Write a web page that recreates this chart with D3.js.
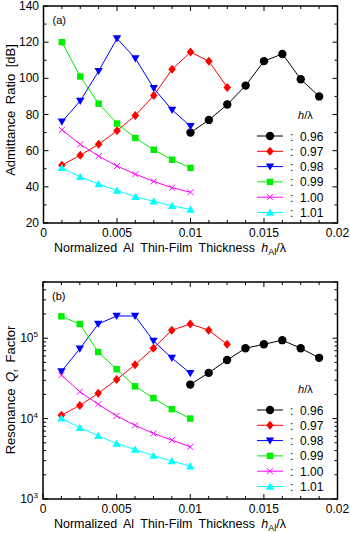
<!DOCTYPE html>
<html>
<head>
<meta charset="utf-8">
<script src="https://cdn.jsdelivr.net/npm/d3@7"></script>
<style>
  body { margin: 0; background: #fff; }
  svg { display: block; font-family: "Liberation Sans", Arial, sans-serif; }
</style>
</head>
<body>
<div id="chart"></div>
<script>
// film thickness values (h_Al / lambda)
var xFull = [0.00125, 0.0025, 0.00375, 0.005, 0.00625, 0.0075, 0.00875, 0.01];
var xBlack = [0.01, 0.01125, 0.0125, 0.01375, 0.015, 0.01625, 0.0175, 0.01875];
var xRed = [0.00125, 0.0025, 0.00375, 0.005, 0.00625, 0.0075, 0.00875, 0.01, 0.01125, 0.0125];

var seriesNames = ['0.96', '0.97', '0.98', '0.99', '1.00', '1.01'];
var seriesColors = ['#000000', '#ff0000', '#0000ff', '#00ee00', '#ff00ff', '#00ffff'];
var seriesMarkers = ['circle', 'diamond', 'triDown', 'square', 'cross', 'triUp'];

// (a) admittance ratio [dB]
var ratio096 = [70, 77, 85.5, 96, 109.5, 113.5, 99.5, 90];
var ratio097 = [52, 57.5, 63.5, 71, 79.5, 90.5, 105, 114.5, 109.5, 95];
var ratio098 = [76, 87.5, 104, 122, 111, 94.5, 82.5, 73.5];
var ratio099 = [120, 101, 86, 75, 67, 60.5, 55, 50.5];
var ratio100 = [71.5, 63.5, 57, 51.5, 47, 43, 39.5, 37];
var ratio101 = [50.5, 45.5, 41.5, 38, 34.5, 32, 29.5, 27.5];

// (b) resonance Q factor
var q096 = [26500, 37000, 53500, 75000, 84000, 94500, 75000, 57000];
var q097 = [11000, 14600, 20600, 30600, 46700, 75000, 126000, 150000, 126000, 84000];
var q098 = [38500, 74000, 150000, 189000, 189000, 92700, 56600, 36700];
var q099 = [187000, 150000, 67300, 41200, 25200, 18000, 13100, 10000];
var q100 = [34700, 21600, 15100, 10800, 8240, 6540, 5400, 4450];
var q101 = [10100, 7700, 6120, 4900, 4120, 3460, 2970, 2550];

var xTicks = [0, 0.005, 0.01, 0.015, 0.02];
var xTickLabels = ['0', '0.005', '0.01', '0.015', '0.02'];
var ratioTicks = [20, 40, 60, 80, 100, 120, 140];
var qTicks = [1e3, 1e4, 1e5];
var qTickExp = ['3', '4', '5'];

var xs = [xBlack, xRed, xFull, xFull, xFull, xFull];

var W = 350, H = 533;
var svg = d3.select('#chart').append('svg').attr('width', W).attr('height', H);

function markerPath(type) {
  if (type === 'circle') return d3.symbol().type(d3.symbolCircle).size(55)();
  if (type === 'diamond') return 'M0,-4.5L3.8,0L0,4.5L-3.8,0Z';
  if (type === 'square') return d3.symbol().type(d3.symbolSquare).size(42)();
  if (type === 'triUp') return 'M0,-4L4.2,3.2L-4.2,3.2Z';
  if (type === 'triDown') return 'M0,4L4.2,-3.2L-4.2,-3.2Z';
  if (type === 'cross') return 'M-3,-3L3,3M-3,3L3,-3';
  return '';
}

function drawMarker(g, type, color, x, y) {
  var p = g.append('path').attr('d', markerPath(type))
    .attr('transform', 'translate(' + x + ',' + y + ')');
  if (type === 'cross') p.attr('fill', 'none').attr('stroke', color).attr('stroke-width', 1);
  else p.attr('fill', color);
}

function panel(opts) {
  var g = svg.append('g');
  var x = d3.scaleLinear().domain([0, 0.02]).range([opts.left, opts.right]);
  var y = opts.y;

  // ticks, inward on all four sides
  var xMinor = d3.range(0, 0.02001, 0.00125);
  xMinor.forEach(function(v) {
    var major = xTicks.some(function(t) { return Math.abs(t - v) < 1e-9; });
    var len = major ? 5 : 3;
    g.append('line').attr('x1', x(v)).attr('x2', x(v))
      .attr('y1', opts.bottom).attr('y2', opts.bottom - len).attr('stroke', '#000');
    g.append('line').attr('x1', x(v)).attr('x2', x(v))
      .attr('y1', opts.top).attr('y2', opts.top + len).attr('stroke', '#000');
  });
  opts.yMinor.forEach(function(v) {
    var major = opts.yMajor.indexOf(v) >= 0;
    var len = major ? 5 : 3;
    g.append('line').attr('x1', opts.left).attr('x2', opts.left + len)
      .attr('y1', y(v)).attr('y2', y(v)).attr('stroke', '#000');
    g.append('line').attr('x1', opts.right).attr('x2', opts.right - len)
      .attr('y1', y(v)).attr('y2', y(v)).attr('stroke', '#000');
  });

  g.append('rect').attr('x', opts.left).attr('y', opts.top)
    .attr('width', opts.right - opts.left).attr('height', opts.bottom - opts.top)
    .attr('fill', 'none').attr('stroke', '#000').attr('stroke-width', 1.5);

  // x tick labels
  xTicks.forEach(function(t, i) {
    g.append('text').attr('x', x(t)).attr('y', opts.bottom + 14)
      .attr('text-anchor', 'middle').attr('font-size', 12).text(xTickLabels[i]);
  });
  opts.yLabels(g);

  // x title
  var xt = g.append('text').attr('x', 170).attr('y', opts.bottom + 29)
    .attr('text-anchor', 'middle').attr('font-size', 12.5).attr('word-spacing', 3);
  xt.append('tspan').text('Normalized Al Thin-Film Thickness ');
  xt.append('tspan').attr('font-style', 'italic').text('h');
  xt.append('tspan').attr('font-size', 9).attr('dy', 3).text('Al');
  xt.append('tspan').attr('dy', -3).text('/λ');

  opts.yTitle(g);

  g.append('text').attr('x', opts.left + 9).attr('y', opts.top + 18)
    .attr('font-size', 11).text(opts.label);

  // series
  var line = d3.line().x(function(d) { return x(d[0]); }).y(function(d) { return y(d[1]); });
  opts.data.forEach(function(vals, i) {
    var pts = vals.map(function(v, j) { return [xs[i][j], v]; });
    g.append('path').attr('d', line(pts)).attr('fill', 'none')
      .attr('stroke', seriesColors[i]).attr('stroke-width', 1);
    pts.forEach(function(p) {
      drawMarker(g, seriesMarkers[i], seriesColors[i], x(p[0]), y(p[1]));
    });
  });

  // legend
  var lt = g.append('text').attr('x', 298).attr('y', opts.legTop).attr('font-size', 11);
  lt.append('tspan').attr('font-style', 'italic').text('h');
  lt.append('tspan').text('/λ');
  seriesNames.forEach(function(n, i) {
    var ly = opts.legTop + 17 + i * 15.3;
    g.append('line').attr('x1', 257).attr('x2', 283).attr('y1', ly).attr('y2', ly)
      .attr('stroke', seriesColors[i]).attr('stroke-width', 1);
    drawMarker(g, seriesMarkers[i], seriesColors[i], 270, ly);
    g.append('text').attr('x', 290).attr('y', ly + 4.5).attr('font-size', 12).text(':  ' + n)
      .attr('xml:space', 'preserve');
  });
}

// panel (a)
var yA = d3.scaleLinear().domain([20, 140]).range([223, 6]);
panel({
  left: 43.5, right: 337.5, top: 6, bottom: 223, y: yA, label: '(a)',
  yMajor: ratioTicks, yMinor: d3.range(20, 141, 10),
  data: [ratio096, ratio097, ratio098, ratio099, ratio100, ratio101],
  legTop: 119,
  yLabels: function(g) {
    ratioTicks.forEach(function(t) {
      g.append('text').attr('x', 39).attr('y', yA(t) + 4).attr('text-anchor', 'end')
        .attr('font-size', 12).text(t);
    });
  },
  yTitle: function(g) {
    g.append('text').attr('transform', 'translate(15,110) rotate(-90)')
      .attr('text-anchor', 'middle').attr('font-size', 13).attr('word-spacing', 3)
      .text('Admittance Ratio [dB]');
  }
});

// panel (b)
var yB = d3.scaleLog().domain([1e3, 5e5]).range([499, 282]);
var qMinor = [];
[1e3, 1e4, 1e5].forEach(function(d) {
  for (var k = 1; k <= 9; k++) if (d * k <= 5e5) qMinor.push(d * k);
});
panel({
  left: 43, right: 337.5, top: 282, bottom: 499, y: yB, label: '(b)',
  yMajor: qTicks, yMinor: qMinor,
  data: [q096, q097, q098, q099, q100, q101],
  legTop: 393,
  yLabels: function(g) {
    qTicks.forEach(function(t, i) {
      var tx = g.append('text').attr('x', 38).attr('y', yB(t) + 4).attr('text-anchor', 'end')
        .attr('font-size', 12);
      tx.append('tspan').text('10');
      tx.append('tspan').attr('font-size', 8).attr('dy', -5).text(qTickExp[i]);
    });
  },
  yTitle: function(g) {
    var t = g.append('text').attr('transform', 'translate(15,390) rotate(-90)')
      .attr('text-anchor', 'middle').attr('font-size', 13).attr('word-spacing', 3);
    t.append('tspan').text('Resonance ');
    t.append('tspan').attr('font-style', 'italic').text('Q');
    t.append('tspan').attr('font-size', 8).attr('dy', 3).text('r');
    t.append('tspan').attr('dy', -3).text(' Factor');
  }
});
</script>
</body>
</html>
